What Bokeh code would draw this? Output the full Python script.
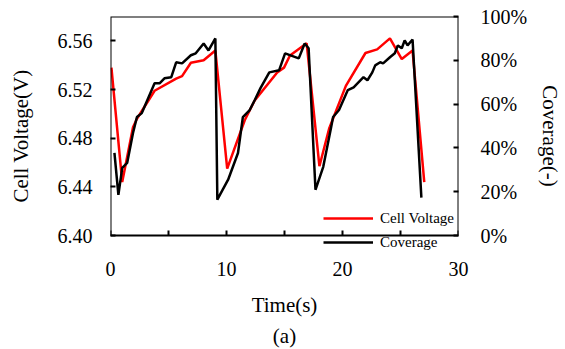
from bokeh.plotting import figure
from bokeh.models import (Range1d, LinearAxis, FixedTicker, Legend, LegendItem,
                          Title, PrintfTickFormatter, BoxAnnotation)
from bokeh.embed import file_html
from bokeh.resources import INLINE

# ---- data ----
voltage_t = [0.08, 1.01, 1.94, 2.28, 3.80, 5.66, 6.17, 6.93, 8.03, 9.04,
             10.06, 11.58, 12.43, 14.37, 14.96, 15.47, 16.91,
             18.01, 18.85, 20.29, 21.98, 22.99, 24.09, 25.11, 26.04, 27.05]
voltage_v = [6.538, 6.444, 6.489, 6.496, 6.519, 6.529, 6.531, 6.542, 6.544, 6.552,
             6.455, 6.495, 6.511, 6.534, 6.538, 6.548, 6.558,
             6.457, 6.488, 6.523, 6.550, 6.553, 6.562, 6.545, 6.552, 6.444]

coverage_t = [0.34, 0.68, 1.01, 1.44, 1.94, 2.28, 2.70, 3.80, 4.23, 4.65, 5.24,
              5.66, 6.17, 6.93, 7.35, 8.03, 8.45, 9.04, 9.21,
              10.14, 10.99, 11.41, 12.00, 12.43, 12.93, 13.69, 14.54, 15.05,
              16.23, 16.74, 17.08, 17.67,
              18.34, 19.02, 19.19, 19.70, 20.46, 20.96, 21.81, 22.15, 22.57,
              22.82, 23.25, 23.50, 24.09, 24.51, 24.77, 25.11, 25.36, 25.61,
              26.04, 26.80]
coverage_pct = [37.7, 18.6, 30.9, 33.2, 46.8, 54.1, 55.9, 69.5, 69.5, 71.8, 72.3,
                79.1, 78.6, 82.3, 83.2, 87.7, 84.5, 90.0, 16.4,
                25.5, 37.7, 54.1, 57.3, 61.8, 67.3, 74.5, 75.5, 83.2,
                80.9, 87.7, 85.5, 20.9,
                31.4, 49.5, 54.1, 57.3, 66.4, 67.7, 72.3, 70.9, 74.5,
                77.7, 79.1, 78.6, 81.4, 83.2, 86.8, 85.5, 89.1, 86.8,
                89.5, 17.3]

x_ticks = [0, 5, 10, 15, 20, 25, 30]
x_tick_labels = ["0", "", "10", "", "20", "", "30"]
v_ticks = [6.40, 6.44, 6.48, 6.52, 6.56]
c_ticks = [0, 20, 40, 60, 80, 100]
c_tick_labels = ["0%", "20%", "40%", "60%", "80%", "100%"]

X_MIN, X_MAX = 0, 30
V_MIN, V_MAX = 6.40, 6.58
C_MIN, C_MAX = 0, 100

FONT = "Liberation Serif"

# frame is extended below the drawn box so the legend can hang below it
BOX_H, PAD = 220, 20
v_pad = (V_MAX - V_MIN) * PAD / BOX_H
c_pad = (C_MAX - C_MIN) * PAD / BOX_H

p = figure(width=565, height=349, output_backend="svg", toolbar_location=None,
           x_range=Range1d(X_MIN, X_MAX), y_range=Range1d(V_MIN - v_pad, V_MAX),
           min_border_left=110, min_border_right=100, min_border_top=16,
           min_border_bottom=93)
p.extra_y_ranges = {"cov": Range1d(C_MIN - c_pad, C_MAX)}
p.xgrid.visible = False
p.ygrid.visible = False
p.outline_line_color = None
p.background_fill_color = "white"
p.border_fill_color = "white"

box = BoxAnnotation(left=X_MIN, right=X_MAX, bottom=V_MIN, top=V_MAX,
                    fill_alpha=0, line_color="black", line_width=2, line_alpha=1)
p.add_layout(box)

r_v = p.line(voltage_t, voltage_v, line_color="#ff0000", line_width=2.5)
r_c = p.line(coverage_t, coverage_pct, line_color="black", line_width=2.5,
             y_range_name="cov")

def style(ax, size="20px"):
    ax.axis_line_color = None
    ax.major_tick_in = 5
    ax.major_tick_out = 0
    ax.major_tick_line_width = 2
    ax.major_tick_line_color = "black"
    ax.minor_tick_line_color = None
    ax.major_label_text_font = FONT
    ax.major_label_text_font_size = size
    ax.major_label_text_color = "black"
    ax.axis_label_text_font = FONT
    ax.axis_label_text_font_size = "21px"
    ax.axis_label_text_font_style = "normal"
    ax.axis_label_text_color = "black"

xa = p.xaxis[0]
style(xa)
xa.ticker = FixedTicker(ticks=x_ticks)
xa.major_label_overrides = {t: l for t, l in zip(x_ticks, x_tick_labels)}
xa.major_tick_line_color = None
xa.axis_label = "Time(s)"
xa.major_label_standoff = 6
xa.axis_label_standoff = 14

# inward ticks on the bottom edge of the box
xt = LinearAxis(fixed_location=V_MIN)
style(xt)
xt.ticker = FixedTicker(ticks=x_ticks)
xt.major_label_overrides = {t: "" for t in x_ticks}
p.add_layout(xt, "below")

ya = p.yaxis[0]
style(ya)
ya.ticker = FixedTicker(ticks=v_ticks)
ya.formatter = PrintfTickFormatter(format="%.2f")
ya.axis_label = "Cell Voltage(V)"
ya.major_label_standoff = 18
ya.axis_label_standoff = 22

ra = LinearAxis(y_range_name="cov", axis_label="Coverage(-)")
style(ra)
ra.ticker = FixedTicker(ticks=c_ticks)
ra.major_label_overrides = {t: l for t, l in zip(c_ticks, c_tick_labels)}
ra.major_label_standoff = 22
ra.axis_label_standoff = 8
p.add_layout(ra, "right")

legend = Legend(items=[LegendItem(label="Cell Voltage", renderers=[r_v]),
                       LegendItem(label="Coverage", renderers=[r_c])],
                location=(213, 3), orientation="vertical",
                background_fill_alpha=0, border_line_alpha=0,
                padding=0, margin=0, spacing=4,
                glyph_width=50, glyph_height=20, label_height=20,
                label_standoff=7, label_text_font=FONT,
                label_text_font_size="15px", label_text_color="black")
p.add_layout(legend, "center")

cap = Title(text="(a)", align="center", text_font=FONT, text_font_size="21px",
            text_font_style="normal", text_color="black", standoff=4)
p.add_layout(cap, "below")

open("out.html", "w").write(file_html(p, INLINE))
